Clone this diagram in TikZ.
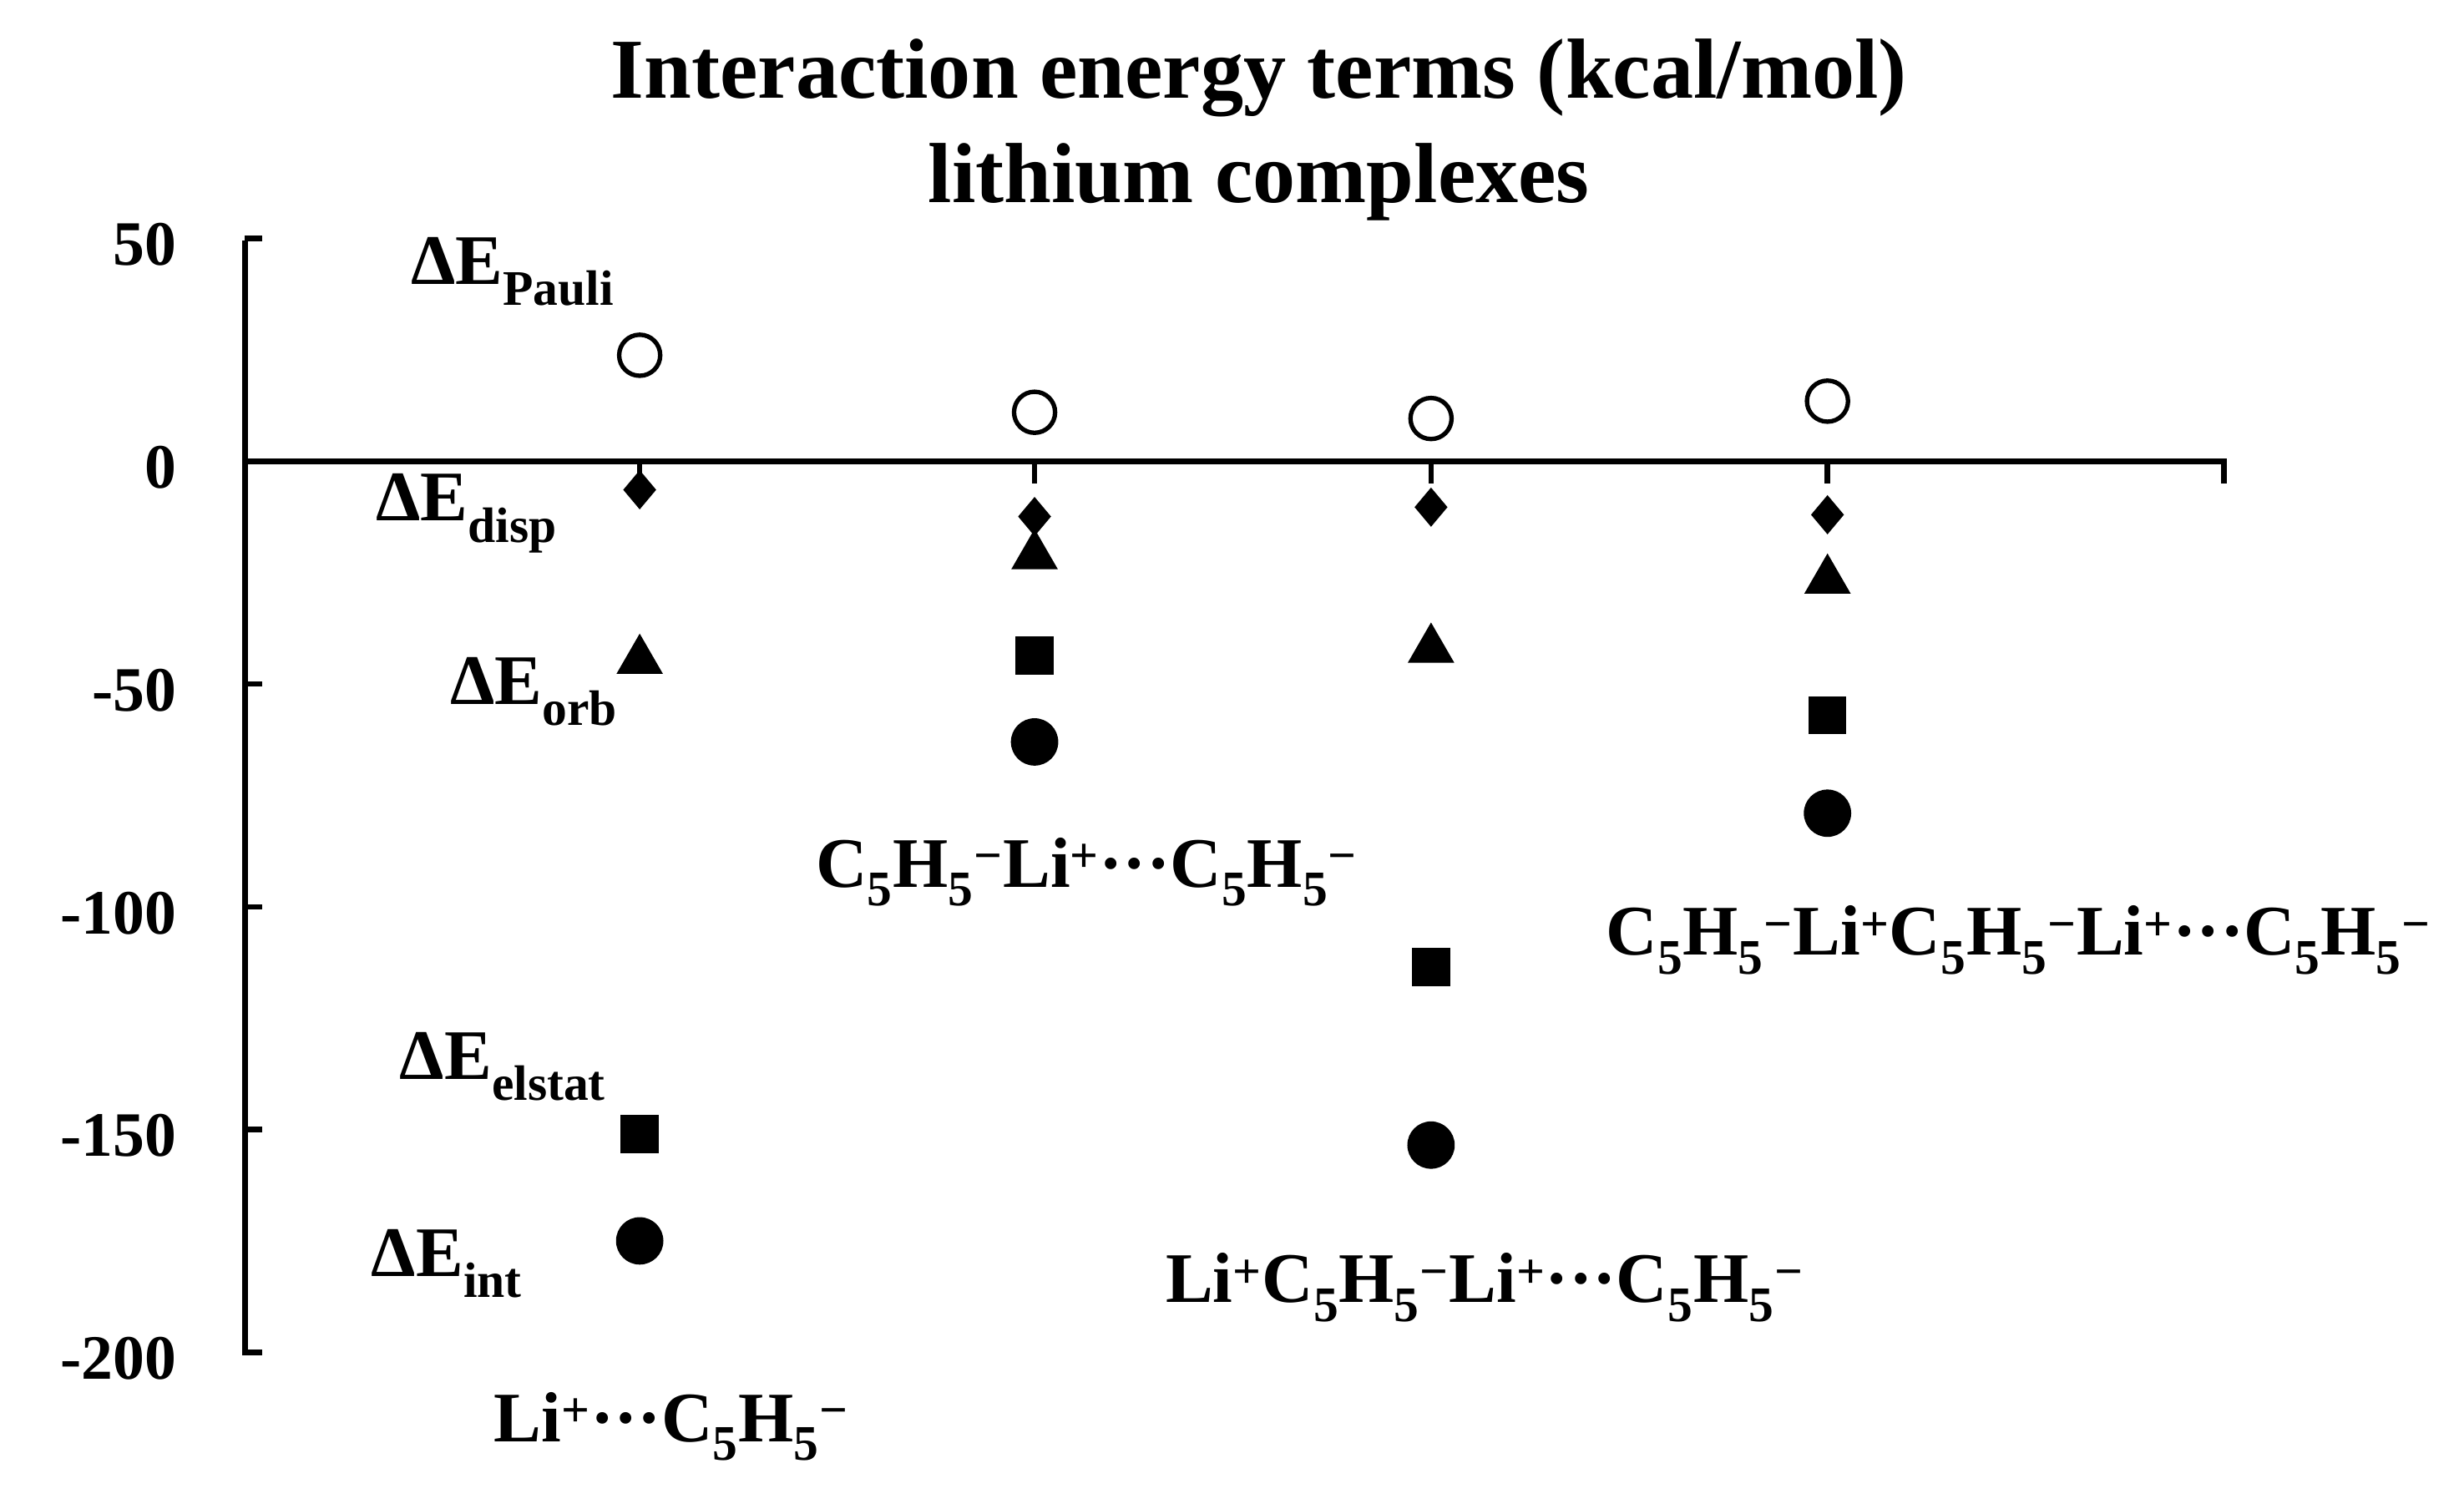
\documentclass[tikz,border=0pt]{standalone}
\usepackage{fontspec}
\setmainfont{Liberation Serif}
\usetikzlibrary{shapes.geometric}
\begin{document}
\begin{tikzpicture}[x=1pt,y=-1pt,
  lab/.style={font=\fontsize{45}{50}\selectfont\bfseries,inner sep=0pt},
  tl/.style={font=\fontsize{40}{44}\selectfont\bfseries,anchor=east,inner sep=0pt},
  ln/.style={line width=3.5pt}]
\useasboundingbox (0,0) rectangle (1560,952);
\def\vy#1{292-2.82*(#1)}
\node[font=\fontsize{54}{66}\selectfont\bfseries,align=center] (title) at (797,82) {Interaction energy terms (kcal/mol)\\lithium complexes};
\coordinate (ytop) at (155,152); \coordinate (ybot) at (155,858);
\coordinate (xl) at (155,292); \coordinate (xr) at (1408,292);
\draw[ln] (ytop) -- (ybot);
\draw[ln] (xl) -- (xr) -- ++(0,14);
\foreach \v in {50,0,-50,-100,-150,-200}{
  \draw[ln] (155,{\vy{\v}}) -- (166,{\vy{\v}});
  \node[tl] at (112,{\vy{\v}+4}) {\v};}
\foreach \x in {405,655,906,1157}{ \draw[ln] (\x,292) -- (\x,306);}
\tikzset{
 pau/.style={circle,draw,line width=2.8pt,fill=white,minimum size=26pt,inner sep=0pt},
 dsp/.style={diamond,fill,minimum width=21pt,minimum height=25pt,inner sep=0pt},
 orb/.style={regular polygon,regular polygon sides=3,fill,minimum size=34pt,inner sep=0pt},
 els/.style={rectangle,fill,minimum size=24pt,inner sep=0pt},
 int/.style={circle,fill,minimum size=30pt,inner sep=0pt}}
\foreach \x/\a/\b/\c/\d/\e [count=\i] in {405/23.8/-6.4/-44/-151/-175, 655/11/-12.4/-20.5/-43.6/-63, 906/9.6/-10.3/-41.5/-113.5/-153.5, 1157/13.5/-12/-26/-57/-79}{
  \node[pau] (p\i) at (\x,{\vy{\a}}) {};
  \node[dsp] (d\i) at (\x,{\vy{\b}}) {};
  \node[orb] (o\i) at (\x,{\vy{\c}+2}) {};
  \node[els] (e\i) at (\x,{\vy{\d}}) {};
  \node[int] (n\i) at (\x,{\vy{\e}}) {};}
\node[lab,anchor=west] (lp) at (260,172) {ΔE\textsubscript{Pauli}};
\node[lab,anchor=west] (ld) at (238,325) {ΔE\textsubscript{disp}};
\node[lab,anchor=west] (lo) at (285,438) {ΔE\textsubscript{orb}};
\node[lab,anchor=west] (le) at (253,675) {ΔE\textsubscript{elstat}};
\node[lab,anchor=west] (li) at (235,800) {ΔE\textsubscript{int}};
\node[lab] (c1) at (425,903) {Li\textsuperscript{+}···C\textsubscript{5}H\textsubscript{5}\textsuperscript{−}};
\node[lab] (c2) at (688,552) {C\textsubscript{5}H\textsubscript{5}\textsuperscript{−}Li\textsuperscript{+}···C\textsubscript{5}H\textsubscript{5}\textsuperscript{−}};
\node[lab] (c3) at (940,815) {Li\textsuperscript{+}C\textsubscript{5}H\textsubscript{5}\textsuperscript{−}Li\textsuperscript{+}···C\textsubscript{5}H\textsubscript{5}\textsuperscript{−}};
\node[lab] (c4) at (1278,595) {C\textsubscript{5}H\textsubscript{5}\textsuperscript{−}Li\textsuperscript{+}C\textsubscript{5}H\textsubscript{5}\textsuperscript{−}Li\textsuperscript{+}···C\textsubscript{5}H\textsubscript{5}\textsuperscript{−}};
\end{tikzpicture}
\end{document}
